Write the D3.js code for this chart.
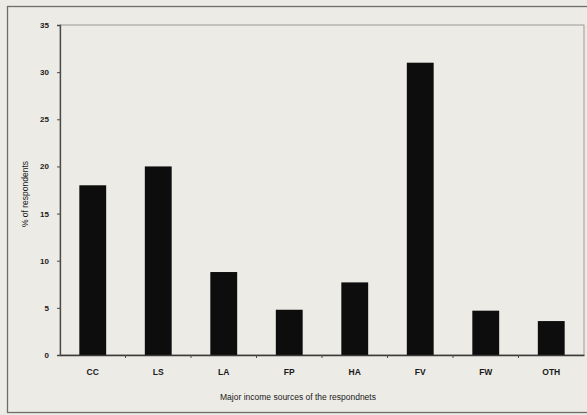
<!DOCTYPE html>
<html>
<head>
<meta charset="utf-8">
<script src="https://cdn.jsdelivr.net/npm/d3@7"></script>
<style>
  body { margin: 0; background: #ecebe6; }
  svg { display: block; }
  text { font-family: "Liberation Sans", Arial, sans-serif; fill: #1a1a1a; }
</style>
</head>
<body>
<div id="chart"></div>
<script>
// chart data
const categories = ["CC", "LS", "LA", "FP", "HA", "FV", "FW", "OTH"];
const values = [18, 20, 8.8, 4.8, 7.7, 31, 4.7, 3.6];
const yTicks = [0, 5, 10, 15, 20, 25, 30, 35];

const W = 587, H = 415;
const margin = { top: 25, right: 3, bottom: 60, left: 60 },
    width = W - margin.left - margin.right,
    height = H - margin.top - margin.bottom;

const svg = d3.select("#chart").append("svg")
    .attr("width", W)
    .attr("height", H);

// outer frame
svg.append("rect")
    .attr("x", 7.5).attr("y", 6.5)
    .attr("width", W + 10).attr("height", 406)
    .attr("fill", "none")
    .attr("stroke", "#6d6d6a")
    .attr("stroke-width", 1.3);

const g = svg.append("g")
    .attr("transform", `translate(${margin.left}, ${margin.top})`);

const x = d3.scaleBand().domain(categories).range([0, width]).paddingInner(0.59).paddingOuter(0.295);
const y = d3.scaleLinear().domain([0, 35]).range([height, 0]);

// plot area border
g.append("rect")
    .attr("x", 0).attr("y", 0)
    .attr("width", width).attr("height", height)
    .attr("fill", "none")
    .attr("stroke", "#9a9a96")
    .attr("stroke-width", 1);

// bars
g.selectAll(".bar")
    .data(values)
    .enter().append("rect")
    .attr("class", "bar")
    .attr("x", (d, i) => x(categories[i]))
    .attr("y", d => y(d))
    .attr("width", x.bandwidth())
    .attr("height", d => height - y(d))
    .attr("fill", "#0d0d0d");

// y axis
const yAxis = g.append("g")
    .call(d3.axisLeft(y).tickValues(yTicks).tickSize(3).tickPadding(8));
yAxis.select(".domain").attr("stroke", "#4a4a48").attr("stroke-width", 1.3);
yAxis.selectAll(".tick line").attr("stroke", "#4a4a48");
yAxis.selectAll("text").style("font-size", "8px").style("font-weight", "bold").attr("fill", "#222");

// x axis
const xAxis = g.append("g")
    .attr("transform", `translate(0, ${height})`)
    .call(d3.axisBottom(x).tickSize(0).tickPadding(14));
xAxis.select(".domain").attr("stroke", "#3a3a38").attr("stroke-width", 1.5);
xAxis.selectAll("text").style("font-size", "8.5px").style("font-weight", "bold").attr("fill", "#222");

// small tick marks between categories
g.selectAll(".xsep")
    .data(categories.slice(1))
    .enter().append("line")
    .attr("class", "xsep")
    .attr("x1", d => x(d) - x.step() * x.paddingInner() / 2)
    .attr("x2", d => x(d) - x.step() * x.paddingInner() / 2)
    .attr("y1", height)
    .attr("y2", height + 3)
    .attr("stroke", "#4a4a48");

// axis titles
svg.append("text")
    .attr("x", 298).attr("y", 400)
    .attr("text-anchor", "middle")
    .style("font-size", "8.5px")
    .text("Major income sources of the respondnets");

svg.append("text")
    .attr("transform", "translate(28, 194) rotate(-90)")
    .attr("text-anchor", "middle")
    .style("font-size", "8.5px")
    .text("% of respondents");
</script>
</body>
</html>
